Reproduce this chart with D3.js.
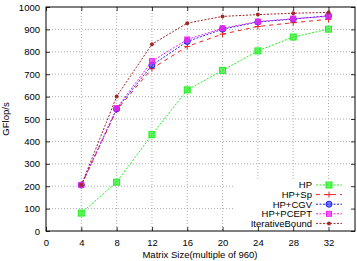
<!DOCTYPE html>
<html><head><meta charset="utf-8">
<script src="https://cdn.jsdelivr.net/npm/d3@7"></script>
<style>body{margin:0;background:#fff}svg{display:block}text{font-family:"Liberation Sans",Arial,sans-serif;fill:#000}</style>
</head><body><svg id="c" width="357" height="261"></svg>
<script>
const xValues = [4, 8, 12, 16, 20, 24, 28, 32];
const xTicks = [0, 4, 8, 12, 16, 20, 24, 28, 32];
const yTicks = [0, 100, 200, 300, 400, 500, 600, 700, 800, 900, 1000];
const seriesNames = ["HP", "HP+Sp", "HP+CGV", "HP+PCEPT", "IterativeBound"];
const hp = [80, 218, 430, 630, 717, 804, 866, 901];
const hpSp = [205, 540, 725, 824, 879, 913, 930, 945];
const hpCgv = [205, 545, 740, 846, 901, 933, 946, 961];
const hpPcept = [205, 548, 758, 855, 905, 935, 948, 958];
const iterBound = [205, 600, 834, 928, 958, 966, 972, 976];

const svg = d3.select("#c");
const L = 46, R = 355, T = 7, B = 231;
const x = d3.scaleLinear().domain([0, 35]).range([L, R]);
const y = d3.scaleLinear().domain([0, 1000]).range([B, T]);

// grid
const g = svg.append("g");
g.selectAll("line.gx").data(xTicks.filter(d => d > 0)).enter().append("line")
  .attr("x1", d => x(d)).attr("x2", d => x(d)).attr("y1", T).attr("y2", B)
  .attr("stroke", "#999").attr("stroke-width", 0.8).attr("stroke-dasharray", "1,2");
g.selectAll("line.gy").data(yTicks.filter(d => d > 0 && d < 1000)).enter().append("line")
  .attr("x1", L).attr("x2", R).attr("y1", d => y(d)).attr("y2", d => y(d))
  .attr("stroke", "#999").attr("stroke-width", 0.8).attr("stroke-dasharray", "1,2");

// legend backing
svg.append("rect").attr("x", 233).attr("y", 180).attr("width", R - 233 - 1).attr("height", B - 180 - 1).attr("fill", "#fff");

// axes with inward ticks
const axB = svg.append("g").attr("transform", `translate(0,${B})`)
  .call(d3.axisBottom(x).tickValues(xTicks).tickSize(-4).tickPadding(8).tickFormat(d3.format("d")));
const axT = svg.append("g").attr("transform", `translate(0,${T})`)
  .call(d3.axisTop(x).tickValues(xTicks).tickSize(-4).tickFormat(""));
const axL = svg.append("g").attr("transform", `translate(${L},0)`)
  .call(d3.axisLeft(y).tickValues(yTicks).tickSize(-4).tickPadding(6).tickFormat(d3.format("d")));
const axR = svg.append("g").attr("transform", `translate(${R},0)`)
  .call(d3.axisRight(y).tickValues(yTicks).tickSize(-4).tickFormat(""));
[axB, axT, axL, axR].forEach(a => {
  a.select(".domain").remove();
  a.selectAll(".tick line").attr("stroke", "#000").attr("stroke-width", 0.8);
  a.selectAll("text").attr("font-size", "9.5px").attr("font-family", "Liberation Sans, Arial, sans-serif").attr("fill", "#000");
});
svg.append("rect").attr("x", L).attr("y", T).attr("width", R - L).attr("height", B - T)
  .attr("fill", "none").attr("stroke", "#000").attr("stroke-width", 1);

// labels
svg.append("text").attr("x", (L + R) / 2 - 0.5).attr("y", 258).attr("text-anchor", "middle")
  .attr("font-size", "9.5px").text("Matrix Size(multiple of 960)");
svg.append("text").attr("transform", `translate(9,${(T + B) / 2}) rotate(-90)`).attr("text-anchor", "middle")
  .attr("font-size", "9.5px").text("GFlop/s");

const styles = [
  {data: hp, color: "#22ee22", dash: "2,1.5", marker: "square", size: 6},
  {data: hpSp, color: "#ee2222", dash: "4,4", marker: "plus", size: 6},
  {data: hpCgv, color: "#2222ee", dash: "2,1.5", marker: "circle", size: 3},
  {data: hpPcept, color: "#ee22ee", dash: "2,1.5", marker: "square", size: 5},
  {data: iterBound, color: "#a02828", dash: "2,1.5", marker: "dot", size: 2}
];
const line = d3.line().x((d, i) => x(xValues[i])).y(d => y(d));

function drawMarker(sel, s, cx, cy) {
  if (s.marker === "square") {
    sel.append("rect").attr("x", cx - s.size / 2).attr("y", cy - s.size / 2).attr("width", s.size).attr("height", s.size)
      .attr("fill", s.color).attr("fill-opacity", 0.7).attr("stroke", s.color).attr("stroke-width", 1);
  } else if (s.marker === "plus") {
    sel.append("path").attr("d", `M${cx - 3},${cy}H${cx + 3}M${cx},${cy - 3}V${cy + 3}`)
      .attr("stroke", s.color).attr("stroke-width", 1).attr("fill", "none");
  } else if (s.marker === "circle") {
    sel.append("circle").attr("cx", cx).attr("cy", cy).attr("r", s.size)
      .attr("fill", s.color).attr("fill-opacity", 0.6).attr("stroke", s.color).attr("stroke-width", 1);
  } else {
    sel.append("circle").attr("cx", cx).attr("cy", cy).attr("r", s.size).attr("fill", s.color);
  }
}

styles.forEach(s => {
  svg.append("path").datum(s.data).attr("d", line).attr("fill", "none")
    .attr("stroke", s.color).attr("stroke-width", 1).attr("stroke-dasharray", s.dash);
  const mg = svg.append("g");
  s.data.forEach((v, i) => drawMarker(mg, s, x(xValues[i]), y(v)));
});

// legend
const legY0 = 185, legDy = 9.6;
styles.forEach((s, i) => {
  const ly = legY0 + i * legDy;
  svg.append("text").attr("x", 312).attr("y", ly + 3.4).attr("text-anchor", "end")
    .attr("font-size", "9.5px").text(seriesNames[i]);
  svg.append("line").attr("x1", 316).attr("x2", 342).attr("y1", ly).attr("y2", ly)
    .attr("stroke", s.color).attr("stroke-width", 1).attr("stroke-dasharray", s.dash);
  drawMarker(svg.append("g"), s, 329, ly);
});
</script></body></html>
